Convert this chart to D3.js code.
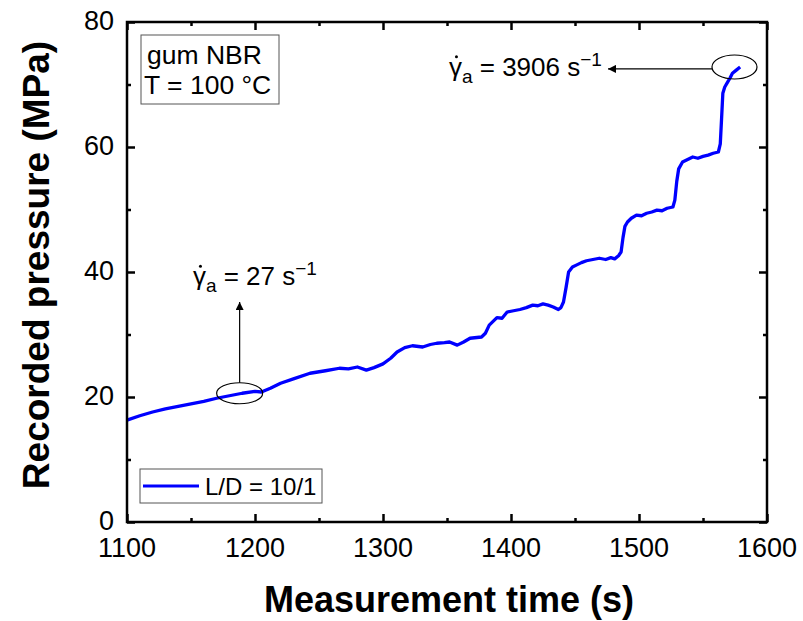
<!DOCTYPE html>
<html>
<head>
<meta charset="utf-8">
<script src="https://cdn.jsdelivr.net/npm/d3@7"></script>
<style>
  body { margin: 0; background: #fff; }
  svg text { font-family: "Liberation Sans", Arial, sans-serif; }
</style>
</head>
<body>
<div id="chart"></div>
<script>
// measurement time (s)
const time = [1100, 1110, 1120, 1130, 1140, 1150, 1160, 1170, 1180, 1190, 1200, 1205, 1212, 1220, 1230,
  1243, 1255, 1266, 1273, 1280, 1287, 1293, 1300, 1306, 1311, 1317, 1323, 1331, 1337, 1342, 1348, 1352,
  1358, 1363, 1368, 1377, 1380, 1383, 1389, 1393, 1397, 1402, 1407, 1412, 1417, 1421, 1425, 1429, 1433,
  1437, 1439, 1441, 1443, 1445, 1448, 1451, 1455, 1459, 1464, 1469, 1474, 1478, 1481, 1484, 1486, 1487.5,
  1489, 1491, 1494, 1498, 1502, 1506, 1510, 1514, 1518, 1522, 1526.5, 1528, 1529.5, 1531, 1534, 1538,
  1542, 1546, 1550, 1554, 1558, 1562, 1563.5, 1564.5, 1565.5, 1567, 1569, 1571, 1573, 1576, 1579];
// recorded pressure (MPa), L/D = 10/1
const pressure = [16.3, 17.0, 17.6, 18.1, 18.5, 18.9, 19.3, 19.8, 20.2, 20.6, 20.9, 20.8, 21.4, 22.2, 22.9,
  23.8, 24.2, 24.6, 24.5, 24.8, 24.3, 24.7, 25.3, 26.2, 27.2, 27.9, 28.2, 28.0, 28.4, 28.6, 28.7, 28.8,
  28.3, 28.8, 29.4, 29.6, 30.2, 31.5, 32.7, 32.6, 33.6, 33.8, 34.0, 34.3, 34.7, 34.6, 34.9, 34.7, 34.4,
  34.0, 34.3, 35.2, 37.5, 40.0, 40.8, 41.1, 41.5, 41.8, 42.0, 42.2, 42.0, 42.3, 42.1, 42.6, 43.2, 45.5,
  47.3, 48.0, 48.6, 49.1, 49.0, 49.4, 49.6, 49.9, 49.8, 50.2, 50.4, 51.5, 54.5, 56.5, 57.6, 58.0,
  58.4, 58.2, 58.5, 58.7, 59.0, 59.2, 60.5, 64.5, 68.6, 69.6, 70.3, 71.0, 71.8, 72.3, 72.8];

const xTicks = [1100, 1200, 1300, 1400, 1500, 1600];
const xMinor = [1150, 1250, 1350, 1450, 1550];
const yTicks = [0, 20, 40, 60, 80];
const yMinor = [10, 30, 50, 70];

const width = 803, height = 621;
const plotLeft = 127, plotRight = 767, plotTop = 22, plotBottom = 522;

const svg = d3.select('#chart').append('svg')
  .attr('width', width)
  .attr('height', height);

const x = d3.scaleLinear().domain([1100, 1600]).range([plotLeft, plotRight]);
const y = d3.scaleLinear().domain([0, 80]).range([plotBottom, plotTop]);

// ticks on all four sides, pointing inward
const noLabel = () => '';
svg.append('g').attr('transform', 'translate(0,' + plotBottom + ')')
  .call(d3.axisTop(x).tickValues(xTicks).tickSize(8).tickFormat(noLabel));
svg.append('g').attr('transform', 'translate(0,' + plotBottom + ')')
  .call(d3.axisTop(x).tickValues(xMinor).tickSize(4).tickFormat(noLabel));
svg.append('g').attr('transform', 'translate(0,' + plotTop + ')')
  .call(d3.axisBottom(x).tickValues(xTicks).tickSize(8).tickFormat(noLabel));
svg.append('g').attr('transform', 'translate(0,' + plotTop + ')')
  .call(d3.axisBottom(x).tickValues(xMinor).tickSize(4).tickFormat(noLabel));
svg.append('g').attr('transform', 'translate(' + plotLeft + ',0)')
  .call(d3.axisRight(y).tickValues(yTicks).tickSize(8).tickFormat(noLabel));
svg.append('g').attr('transform', 'translate(' + plotLeft + ',0)')
  .call(d3.axisRight(y).tickValues(yMinor).tickSize(4).tickFormat(noLabel));
svg.append('g').attr('transform', 'translate(' + plotRight + ',0)')
  .call(d3.axisLeft(y).tickValues(yTicks).tickSize(8).tickFormat(noLabel));
svg.append('g').attr('transform', 'translate(' + plotRight + ',0)')
  .call(d3.axisLeft(y).tickValues(yMinor).tickSize(4).tickFormat(noLabel));
svg.selectAll('.domain').remove();
svg.selectAll('.tick line').attr('stroke', '#000').attr('stroke-width', 2.5);

// tick labels
svg.selectAll('.xlab').data(xTicks).enter().append('text')
  .attr('x', d => x(d)).attr('y', plotBottom + 35)
  .attr('text-anchor', 'middle')
  .style('font-size', '27px')
  .text(d => d);
svg.selectAll('.ylab').data(yTicks).enter().append('text')
  .attr('x', plotLeft - 13).attr('y', d => y(d) + 8)
  .attr('text-anchor', 'end')
  .style('font-size', '27px')
  .text(d => d);

// axis titles
svg.append('text')
  .attr('x', 449).attr('y', 612)
  .attr('text-anchor', 'middle')
  .style('font-size', '36px').style('font-weight', 'bold')
  .text('Measurement time (s)');
svg.append('text')
  .attr('transform', 'translate(49,265) rotate(-90)')
  .attr('text-anchor', 'middle')
  .style('font-size', '37px').style('font-weight', 'bold')
  .text('Recorded pressure (MPa)');

// data line
const line = d3.line().x((d, i) => x(time[i])).y(d => y(d));
svg.append('path')
  .datum(pressure)
  .attr('d', line)
  .attr('fill', 'none')
  .attr('stroke', '#0000ff')
  .attr('stroke-width', 3.3)
  .attr('stroke-linejoin', 'round');

// frame
svg.append('rect')
  .attr('x', plotLeft).attr('y', plotTop)
  .attr('width', plotRight - plotLeft).attr('height', plotBottom - plotTop)
  .attr('fill', 'none').attr('stroke', '#000').attr('stroke-width', 2.5);

// arrowhead marker
svg.append('defs').append('marker')
  .attr('id', 'arrow')
  .attr('viewBox', '0 0 10 10')
  .attr('refX', 10).attr('refY', 5)
  .attr('markerWidth', 11).attr('markerHeight', 8)
  .attr('markerUnits', 'userSpaceOnUse')
  .attr('orient', 'auto')
  .append('path').attr('d', 'M0,0L10,5L0,10z').attr('fill', '#000');

function gammaLabel(tx, ty, anchor, value) {
  const t = svg.append('text')
    .attr('x', tx).attr('y', ty)
    .attr('text-anchor', anchor)
    .style('font-size', '26px');
  t.append('tspan').text('\u03B3');
  t.append('tspan').attr('dy', 7).style('font-size', '19px').text('a');
  t.append('tspan').attr('dy', -7).text(' = ' + value + ' s');
  t.append('tspan').attr('dy', -10).style('font-size', '19px').text('\u22121');
  // dot over gamma
  const box = t.node().getExtentOfChar(0);
  svg.append('circle')
    .attr('cx', box.x + box.width * 0.58).attr('cy', ty - 19)
    .attr('r', 1.5).attr('fill', '#000');
}

// low shear-rate annotation
svg.append('ellipse')
  .attr('cx', x(1188)).attr('cy', y(20.6)).attr('rx', 23).attr('ry', 10.5)
  .attr('fill', 'none').attr('stroke', '#000').attr('stroke-width', 1.2);
svg.append('line')
  .attr('x1', x(1188)).attr('y1', y(20.6) - 10.5)
  .attr('x2', x(1188)).attr('y2', y(35.2))
  .attr('stroke', '#000').attr('stroke-width', 1.2)
  .attr('marker-end', 'url(#arrow)');
gammaLabel(x(1151.5), y(37.9), 'start', 27);

// high shear-rate annotation
svg.append('ellipse')
  .attr('cx', x(1574.6)).attr('cy', y(72.8)).attr('rx', 22.5).attr('ry', 12)
  .attr('fill', 'none').attr('stroke', '#000').attr('stroke-width', 1.2);
svg.append('line')
  .attr('x1', x(1574.6) - 22.5).attr('y1', y(72.5))
  .attr('x2', x(1475.8)).attr('y2', y(72.5))
  .attr('stroke', '#000').attr('stroke-width', 1.2)
  .attr('marker-end', 'url(#arrow)');
gammaLabel(x(1471), y(71.4), 'end', 3906);

// condition box
svg.append('rect')
  .attr('x', 141).attr('y', 35).attr('width', 138).attr('height', 69)
  .attr('fill', '#fff').attr('stroke', '#555').attr('stroke-width', 1);
svg.append('text').attr('x', 147).attr('y', 64).style('font-size', '26.5px').text('gum NBR');
svg.append('text').attr('x', 144).attr('y', 94).style('font-size', '26.5px').text('T = 100 \u00B0C');

// series legend
svg.append('rect')
  .attr('x', 140).attr('y', 469).attr('width', 182).attr('height', 34)
  .attr('fill', '#fff').attr('stroke', '#555').attr('stroke-width', 1);
svg.append('line')
  .attr('x1', 143).attr('x2', 199).attr('y1', 486).attr('y2', 486)
  .attr('stroke', '#0000ff').attr('stroke-width', 3);
svg.append('text').attr('x', 205).attr('y', 495).style('font-size', '24px').text('L/D = 10/1');
</script>
</body>
</html>
